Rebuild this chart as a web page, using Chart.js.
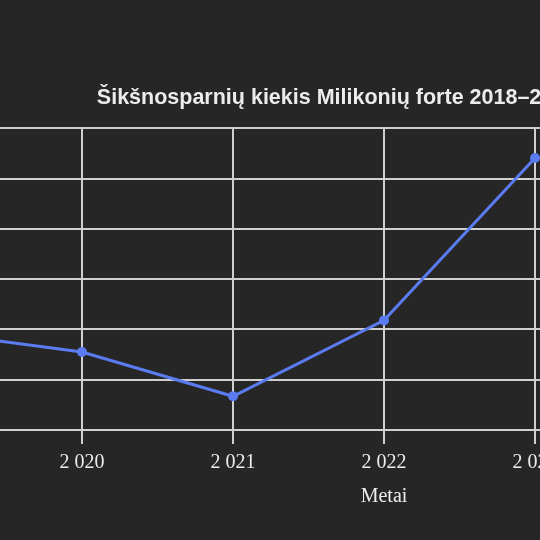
<!DOCTYPE html>
<html lang="lt">
<head>
<meta charset="utf-8">
<title>Šikšnosparnių kiekis</title>
<script src="https://cdn.jsdelivr.net/npm/chart.js@4.4.1/dist/chart.umd.min.js"></script>
<style>
    html, body {
        margin: 0;
        padding: 0;
        width: 540px;
        height: 540px;
        overflow: hidden;
        background: #262626;
    }
    /* the chart is wider than the window, only its middle part shows */
    .chart-box {
        position: absolute;
        left: -325px;
        top: 75px;
        width: 1343px;
        height: 438px;
    }
</style>
</head>
<body>
<div class="chart-box">
    <canvas id="batChart"></canvas>
</div>
<script>
// Data
const years = [2018, 2019, 2020, 2021, 2022, 2023];
const batCounts = [230, 195, 155, 67, 218, 541];
const yearRange = [2018, 2026];
const countRange = [0, 600];
const countStep = 100;

const chartTitle = 'Šikšnosparnių kiekis Milikonių forte 2018–2023';
const xAxisTitle = 'Metai';

const gridColor = '#cfcfcf';
const textColor = '#ececec';
const lineColor = '#5b7cf1';
const serif = "'Times New Roman', 'Liberation Serif', serif";

// lt-LT style thousands grouping: 2020 -> "2 020"
function groupDigits(value) {
    const s = String(Math.round(value));
    return s.replace(/\B(?=(\d{3})+(?!\d))/g, '\u00a0');
}

const points = years.map(function(y, i) {
    return { x: y, y: batCounts[i] };
});

const ctx = document.getElementById('batChart');
new Chart(ctx, {
    type: 'line',
    data: {
        datasets: [{
            label: 'Kiekis',
            data: points,
            borderColor: lineColor,
            backgroundColor: lineColor,
            borderWidth: 3,
            pointRadius: 5,
            pointBackgroundColor: lineColor,
            pointBorderColor: lineColor,
            pointBorderWidth: 0,
            tension: 0,
            fill: false
        }]
    },
    options: {
        responsive: true,
        maintainAspectRatio: false,
        animation: false,
        layout: {
            padding: { left: 11, right: 30, top: 0, bottom: 0 }
        },
        plugins: {
            legend: { display: false },
            tooltip: { enabled: false },
            title: {
                display: true,
                text: chartTitle,
                color: textColor,
                font: {
                    family: "Arial, 'Liberation Sans', sans-serif",
                    size: 21.5,
                    weight: 'bold'
                },
                padding: { top: 10, bottom: 17.5 }
            }
        },
        scales: {
            x: {
                type: 'linear',
                min: yearRange[0],
                max: yearRange[1],
                grid: {
                    color: gridColor,
                    lineWidth: 2,
                    tickLength: 14
                },
                border: { color: gridColor, width: 2 },
                ticks: {
                    stepSize: 1,
                    color: textColor,
                    padding: 7,
                    maxRotation: 0,
                    font: { family: serif, size: 20 },
                    callback: function(value) {
                        return groupDigits(value);
                    }
                },
                title: {
                    display: true,
                    text: xAxisTitle,
                    color: textColor,
                    font: { family: serif, size: 20 },
                    padding: { top: 3, bottom: 4 }
                }
            },
            y: {
                min: countRange[0],
                max: countRange[1],
                afterFit: function(scale) {
                    scale.width = 94;
                },
                grid: {
                    color: gridColor,
                    lineWidth: 2,
                    tickLength: 14
                },
                border: { color: gridColor, width: 2 },
                ticks: {
                    stepSize: countStep,
                    color: textColor,
                    font: { family: serif, size: 20 },
                    callback: function(value) {
                        return groupDigits(value);
                    }
                }
            }
        }
    }
});
</script>
</body>
</html>
